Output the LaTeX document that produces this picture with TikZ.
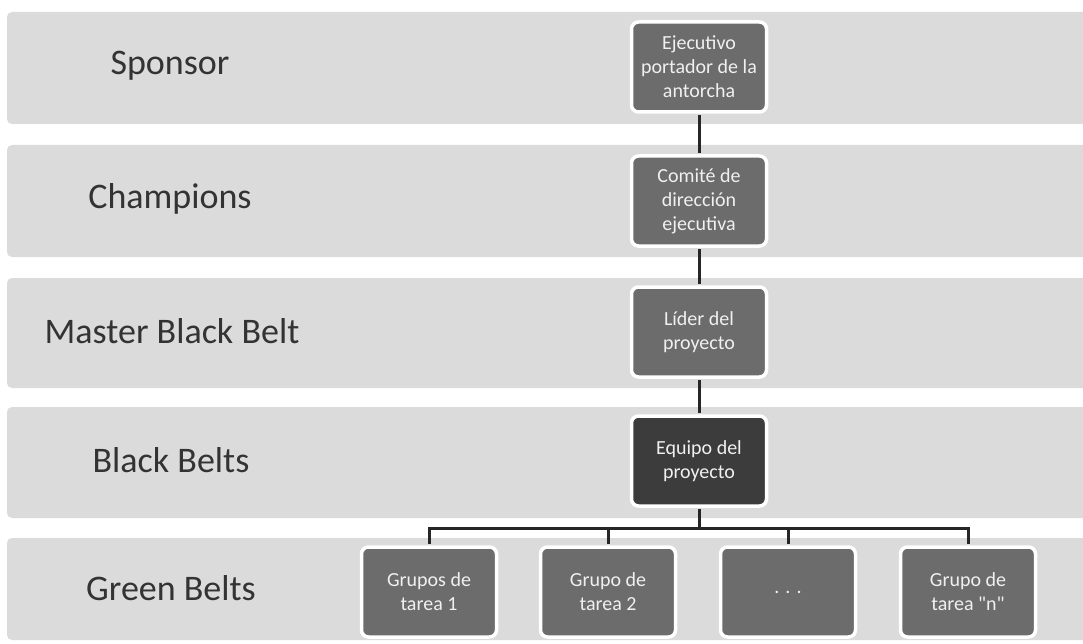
\documentclass[tikz,border=0pt]{standalone}
\usepackage{fontspec}
\setmainfont{Carlito}[Ligatures=TeXOff]
\definecolor{bandgray}{HTML}{DBDBDB}
\definecolor{boxgray}{HTML}{6C6C6C}
\definecolor{boxdark}{HTML}{3C3C3C}
\definecolor{boxtext}{HTML}{F0F0F0}
\definecolor{labeltext}{HTML}{333333}
\definecolor{linkgray}{HTML}{262626}
\begin{document}
\begin{tikzpicture}[x=1pt,y=-1pt,
  band/.style={fill=bandgray, rounded corners=5pt},
  level/.style={font=\fontsize{36}{40}\selectfont, text=labeltext, anchor=center},
  rolebox/.style={draw=white, line width=3.5pt, fill=boxgray, rounded corners=7pt,
    minimum width=135pt, minimum height=90pt, inner sep=2pt, align=center,
    text=boxtext, font=\fontsize{20}{24}\selectfont},
  teambox/.style={rolebox, fill=boxdark},
  link/.style={draw=linkgray, line width=3pt, shorten <=1.5pt, shorten >=1.5pt}]
\useasboundingbox (0,0) rectangle (1083,644);
\fill[white] (0,0) rectangle (1083,644);

% horizontal level bands
\foreach \t/\b in {12/124, 145/257, 278/388, 407/518, 538/640}
  \path[band] (7,\t) rectangle (1095,\b);

% level names
\node[level] (lsponsor) at (170,66) {Sponsor};
\node[level] (lchamp) at (170,199) {Champions};
\node[level] (lmbb) at (172,331) {Master Black Belt};
\node[level] (lbb) at (171,460) {Black Belts};
\node[level] (lgb) at (171,588) {Green Belts};

% hierarchy boxes
\node[rolebox] (exec) at (699,67) {Ejecutivo\\portador de la\\antorcha};
\node[rolebox] (comite) at (699,201) {Comité de\\dirección\\ejecutiva};
\node[rolebox] (lider) at (699,332) {Líder del\\proyecto};
\node[teambox] (equipo) at (699,461) {Equipo del\\proyecto};

\node[rolebox] (g1) at (429,592) {Grupos de\\tarea 1};
\node[rolebox] (g2) at (608,592) {Grupo de\\tarea 2};
\node[rolebox] (g3) at (788,592) {. . .};
\node[rolebox] (g4) at (968,592) {Grupo de\\tarea "n"};

\coordinate (bus) at (0,528);

% connectors
\draw[link] (exec.south) -- (comite.north);
\draw[link] (comite.south) -- (lider.north);
\draw[link] (lider.south) -- (equipo.north);
\draw[link, shorten >=0pt] (equipo.south) -- (equipo.south |- bus);
\draw[link] (g1.north) -- (g1.north |- bus) -- (g4.north |- bus) -- (g4.north);
\draw[link, shorten >=0pt] (g2.north) -- (g2.north |- bus);
\draw[link, shorten >=0pt] (g3.north) -- (g3.north |- bus);
\end{tikzpicture}
\end{document}
